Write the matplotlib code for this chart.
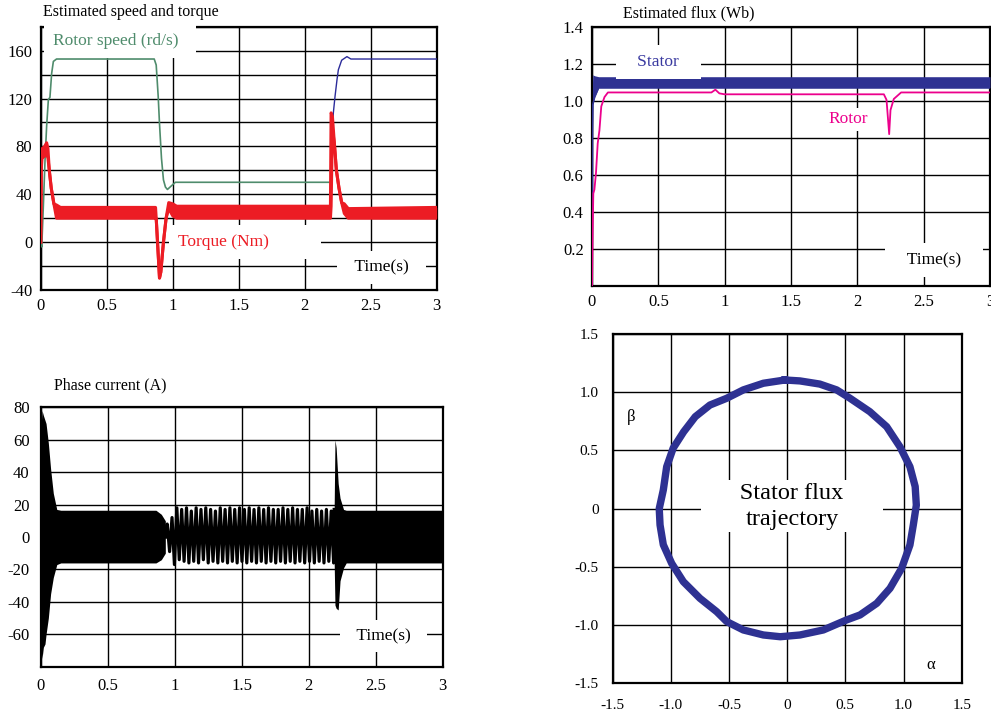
import numpy as np
import matplotlib
matplotlib.use("Agg")
from matplotlib import pyplot as plt
from matplotlib.ticker import MultipleLocator

plt.rcParams['font.family'] = ['Liberation Serif', 'DejaVu Serif']
plt.rcParams['axes.unicode_minus'] = False

# ---- estimated speed (rd/s) ----
speed1_t = [0, 0.008, 0.02, 0.033, 0.045, 0.058, 0.07, 0.083, 0.096, 0.12, 0.2, 0.86,
            0.875, 0.89, 0.9, 0.915, 0.93, 0.945, 0.96, 0.98, 1.0, 1.02, 2.2]
speed1_v = [0, -4, 30, 69, 97, 119, 121, 141, 151, 153, 153, 153,
            148, 122, 99, 70, 52, 46, 44, 46, 48, 50, 50]
speed2_t = [2.2, 2.205, 2.217, 2.23, 2.245, 2.255, 2.28, 2.32, 2.35, 3.0]
speed2_v = [50, 75, 108, 122, 136, 144, 152, 155, 153, 153]

# ---- estimated torque (Nm): lower / upper edge of the ripple band ----
torque_t = [0, 0.004, 0.01, 0.03, 0.045, 0.055, 0.065, 0.08, 0.1, 0.12, 0.15, 0.87,
            0.875, 0.89, 0.9, 0.91, 0.93, 0.95, 0.97, 1.0, 1.03, 2.195,
            2.2, 2.21, 2.225, 2.24, 2.26, 2.28, 2.3, 2.33, 3.0]
torque_lo = [0, 60, 70, 72, 74, 70, 60, 45, 32, 20, 20, 20,
             20, -10, -30, -25, 0, 20, 28, 22, 20, 20,
             30, 95, 82, 60, 45, 33, 24, 20, 20]
torque_hi = [0, 70, 78, 80, 83, 78, 60, 45, 32, 31, 29, 29,
             20, -10, -30, -25, 0, 20, 33, 32, 30, 30,
             108, 105, 82, 60, 45, 33, 32, 28, 29]

# ---- estimated flux (Wb) ----
stator_t = [0, 0.002, 0.004, 0.006, 0.02, 0.05, 3.0]
stator_lo = [0, 0.3, 0.85, 0.98, 1.02, 1.07, 1.07]
stator_hi = [0, 0.6, 1.1, 1.14, 1.135, 1.13, 1.13]
rotor_t = [0, 0.005, 0.01, 0.018, 0.03, 0.043, 0.056, 0.07, 0.094, 0.12, 0.9,
           0.93, 0.96, 1.0, 2.2, 2.22, 2.24, 2.25, 2.275, 2.33, 3.0]
rotor_v = [0, 0.3, 0.5, 0.52, 0.61, 0.77, 0.84, 0.97, 1.02, 1.045, 1.045,
           1.06, 1.04, 1.035, 1.035, 1.005, 0.82, 0.95, 1.01, 1.045, 1.045]

# ---- phase current (A) ----
# dense parts: envelope of the oscillation
cur1_t = [0, 0.004, 0.01, 0.02, 0.032, 0.04, 0.057, 0.074, 0.094, 0.12, 0.15, 0.86, 0.9, 0.93]
cur1_lo = [0, -70, -75, -68, -66, -60, -50, -35, -25, -17, -16, -16, -14, -10]
cur1_hi = [0, 70, 78, 75, 72, 70, 58, 42, 27, 17, 16.5, 16.5, 14, 10]
cur2_t = [2.19, 2.196, 2.205, 2.22, 2.234, 2.26, 2.28, 3.0]
cur2_lo = [-15, -42, -44, -45, -27, -19, -16, -16]
cur2_hi = [17, 60, 55, 33, 24, 17, 16.5, 16.5]
# low-speed part: individual swings
cur_mid_t = [0.930, 0.944, 0.962, 0.980, 0.998, 1.016, 1.034, 1.052, 1.070, 1.088, 1.106,
             1.124, 1.142, 1.160, 1.178, 1.196, 1.214, 1.232, 1.250, 1.268, 1.286,
             1.304, 1.322, 1.340, 1.358, 1.376, 1.394, 1.412, 1.430, 1.448, 1.466,
             1.484, 1.502, 1.520, 1.538, 1.556, 1.574, 1.592, 1.610, 1.628, 1.646,
             1.664, 1.682, 1.700, 1.718, 1.736, 1.754, 1.772, 1.790, 1.808, 1.826,
             1.844, 1.862, 1.880, 1.898, 1.916, 1.934, 1.952, 1.970, 1.988, 2.006,
             2.024, 2.042, 2.060, 2.078, 2.096, 2.114, 2.132, 2.150, 2.168, 2.186, 2.19]
cur_mid_v = [0, 8, -9, 12, -17, 18, -14, 17, -15, 18, -16,
             16, -15, 18, -16, 17, -14, 18, -16, 17, -15,
             16, -16, 18, -15, 17, -16, 18, -15, 17, -16,
             18, -15, 17, -16, 18, -15, 17, -16, 18, -15,
             17, -16, 18, -15, 17, -16, 17, -15, 18, -16,
             17, -15, 18, -16, 17, -15, 17, -16, 18, -15,
             16, -16, 17, -15, 16, -16, 17, -15, 16, -16, 17]

# ---- stator flux trajectory (alpha, beta) ----
traj_a = [-0.02, 0.11, 0.28, 0.425, 0.54, 0.71, 0.855, 0.97, 1.055, 1.10, 1.11, 1.084,
          1.055, 0.984, 0.884, 0.77, 0.626, 0.51, 0.31, 0.11, -0.06, -0.205, -0.377,
          -0.52, -0.606, -0.75, -0.893, -0.993, -1.065, -1.093, -1.10, -1.065, -1.036,
          -0.98, -0.89, -0.79, -0.664, -0.52, -0.377, -0.205, -0.02]
traj_b = [1.105, 1.097, 1.07, 1.02, 0.948, 0.833, 0.704, 0.53, 0.36, 0.19, 0.03, -0.14,
          -0.312, -0.512, -0.684, -0.813, -0.913, -0.956, -1.042, -1.085, -1.10, -1.085, -1.042,
          -0.97, -0.885, -0.77, -0.627, -0.47, -0.31, -0.14, 0.0, 0.16, 0.36,
          0.52, 0.66, 0.79, 0.89, 0.948, 1.02, 1.077, 1.105]

time_ticks = [0, 0.5, 1, 1.5, 2, 2.5, 3]
time_labels = ['0', '0.5', '1', '1.5', '2', '2.5', '3']

GREEN = '#4f8c6c'
RED = '#ec1c24'
BLUE = '#2e3192'
MAGENTA = '#ec008c'
W, H = 991, 713


def box(ax_l, ax_t, ax_r, ax_b):
    return [ax_l / W, 1 - ax_b / H, (ax_r - ax_l) / W, (ax_b - ax_t) / H]


def style(ax, fs=12):
    ax.grid(True, which='both', color='black', lw=1.0)
    ax.set_axisbelow(True)
    for s in ax.spines.values():
        s.set_linewidth(1.6)
    ax.tick_params(which='both', length=0, labelsize=fs, pad=6)


def wtext(ax, x, y, s, color='black', fs=12, pad=0.35):
    ax.text(x, y, s, color=color, fontsize=fs, ha='center', va='center', zorder=4,
            bbox=dict(boxstyle='square,pad=%s' % pad, fc='white', ec='none'))


fig = plt.figure(figsize=(W / 100, H / 100), dpi=100)

# ---------- speed and torque ----------
ax1 = fig.add_axes(box(40.7, 26.7, 436.7, 290))
style(ax1)
ax1.plot(speed1_t, speed1_v, color=GREEN, lw=1.2, zorder=3)
ax1.plot(speed2_t, speed2_v, color='#2b2b9a', lw=1.0, zorder=3)
ax1.fill_between(torque_t, torque_lo, torque_hi, color=RED, lw=0, zorder=3)
ax1.plot(torque_t, torque_lo, color=RED, lw=2.2, zorder=3)
ax1.plot(torque_t, torque_hi, color=RED, lw=2.2, zorder=3)
ax1.set_xlim(0, 3)
ax1.set_ylim(-40, 180)
ax1.set_xticks(time_ticks)
ax1.set_xticklabels(time_labels)
ax1.yaxis.set_minor_locator(MultipleLocator(20))
ax1.set_yticks([-40, 0, 40, 80, 120, 160])
wtext(ax1, 0.6, 168, 'Rotor speed (rd/s)  ', color=GREEN, fs=12.5, pad=0.5)
wtext(ax1, 1.55, 0, 'Torque (Nm)          ', color=RED, fs=12.5, pad=0.5)
wtext(ax1, 2.58, -21, '  Time(s)  ', fs=12.5, pad=0.5)
fig.text(43 / W, 1 - 12 / H, 'Estimated speed and torque', fontsize=11.5, va='center')

# ---------- flux ----------
ax2 = fig.add_axes(box(592, 26.7, 990, 286))
style(ax2)
ax2.fill_between(stator_t, stator_lo, stator_hi, color=BLUE, lw=0, zorder=3)
ax2.plot(stator_t, stator_lo, color=BLUE, lw=1.2, zorder=3)
ax2.plot(rotor_t, rotor_v, color=MAGENTA, lw=1.3, zorder=3)
ax2.set_xlim(0, 3)
ax2.set_ylim(0, 1.4)
ax2.set_xticks(time_ticks)
ax2.set_xticklabels(time_labels)
ax2.set_yticks([0.2, 0.4, 0.6, 0.8, 1.0, 1.2, 1.4])
ax2.set_yticklabels(['0.2', '0.4', '0.6', '0.8', '1.0', '1.2', '1.4'])
wtext(ax2, 0.5, 1.21, '   Stator   ', color='#3a3aa0', fs=12.5, pad=0.5)
wtext(ax2, 1.93, 0.9, 'Rotor', color=MAGENTA, fs=12.5, pad=0.2)
wtext(ax2, 2.58, 0.14, '   Time(s)   ', fs=12.5, pad=0.5)
fig.text(623 / W, 1 - 13 / H, 'Estimated flux (Wb)', fontsize=11.5, va='center')

# ---------- phase current ----------
ax3 = fig.add_axes(box(40.7, 407.3, 442.7, 666.7))
style(ax3)
ax3.fill_between(cur1_t, cur1_lo, cur1_hi, color='black', lw=0, zorder=3)
ax3.fill_between(cur2_t, cur2_lo, cur2_hi, color='black', lw=0, zorder=3)
ax3.plot(cur_mid_t, cur_mid_v, color='black', lw=2.3, zorder=3)
ax3.set_xlim(0, 3)
ax3.set_ylim(-80, 80)
ax3.set_xticks(time_ticks)
ax3.set_xticklabels(time_labels)
ax3.set_yticks([-60, -40, -20, 0, 20, 40, 60, 80])
ax3.set_yticks([-80], minor=True)
ax3.tick_params(pad=8)
wtext(ax3, 2.56, -61, '  Time(s)  ', fs=12.5, pad=0.45)
fig.text(54 / W, 1 - 385 / H, 'Phase current (A)', fontsize=11.5, va='center')

# ---------- stator flux trajectory ----------
ax4 = fig.add_axes(box(612.7, 334, 961.7, 683.3))
style(ax4, fs=11)
ax4.plot(traj_a, traj_b, color=BLUE, lw=5.3, zorder=3, solid_joinstyle='round')
ax4.set_xlim(-1.5, 1.5)
ax4.set_ylim(-1.5, 1.5)
ticks4 = [-1.5, -1.0, -0.5, 0, 0.5, 1.0, 1.5]
labels4 = ['-1.5', '-1.0', '-0.5', '0', '0.5', '1.0', '1.5']
ax4.set_xticks(ticks4)
ax4.set_xticklabels(labels4)
ax4.set_yticks(ticks4)
ax4.set_yticklabels(labels4)
ax4.tick_params(axis='x', pad=11)
ax4.tick_params(axis='y', pad=10)
ax4.text(0.04, 0.02, '      Stator flux      \ntrajectory', fontsize=17.5, ha='center',
         va='center', linespacing=1.3, zorder=4,
         bbox=dict(boxstyle='square,pad=0.1', fc='white', ec='none'))
ax4.text(-1.345, 0.79, '\u03b2', fontsize=12, ha='center', va='center')
ax4.text(1.233, -1.344, '\u03b1', fontsize=12, ha='center', va='center')

fig.savefig('out.png', dpi=100)
